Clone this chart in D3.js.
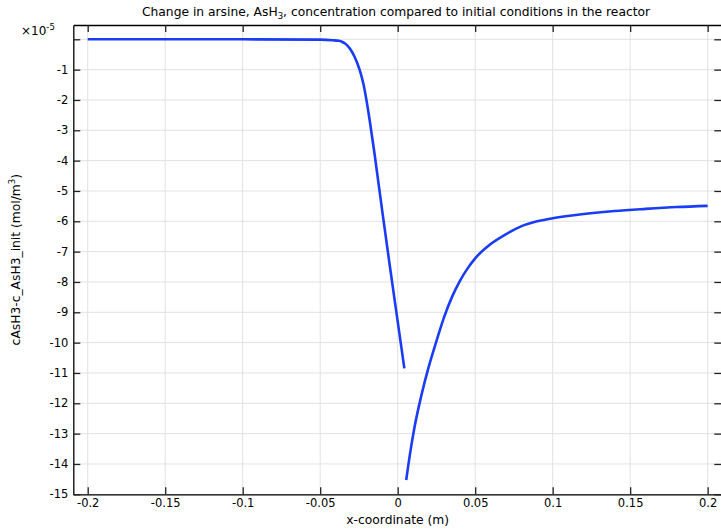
<!DOCTYPE html>
<html lang="en">
<head>
    <meta charset="UTF-8">
    <title>Arsine concentration change</title>
    <script src="https://d3js.org/d3.v7.min.js"></script>
    <style>
        body { margin: 0; background: #fff; }
        text { font-family: "DejaVu Sans", sans-serif; fill: #000; }
    </style>
</head>
<body>
<div id="chart"></div>
<script>
    // upstream of the inlet (x < 0)
    let upX = [-0.2, -0.1, -0.05, -0.042, -0.038, -0.036, -0.034, -0.032, -0.03, -0.028, -0.026, -0.024, -0.022,
        -0.02, -0.0181, -0.015, -0.01, -0.005, 0, 0.0043];
    let upY = [0, 0, -0.01, -0.03, -0.05, -0.08, -0.14, -0.23, -0.37, -0.56, -0.8, -1.1, -1.5,
        -2.05, -2.66, -3.75, -5.65, -7.5, -9.3, -10.85];
    // downstream (x > 0)
    let downX = [0.0055, 0.008, 0.011, 0.015, 0.02, 0.025, 0.03, 0.035, 0.04, 0.045, 0.05, 0.06,
        0.07, 0.08, 0.09, 0.1, 0.12, 0.14, 0.16, 0.18, 0.2];
    let downY = [-14.53, -13.65, -12.75, -11.8, -10.8, -9.95, -9.15, -8.5, -7.98, -7.56, -7.22, -6.75,
        -6.42, -6.16, -6.0, -5.9, -5.76, -5.66, -5.59, -5.53, -5.49];

    let xTicks = [-0.2, -0.15, -0.1, -0.05, 0, 0.05, 0.1, 0.15, 0.2];
    let yTicks = d3.range(0, -16, -1);

    let W = 721, H = 529;
    let margin = {top: 25, left: 73.3};
    let width = 648, height = 469.3;

    let svg = d3.select('#chart')
        .append('svg')
        .attr('width', W)
        .attr('height', H);

    let g = svg.append('g')
        .attr('transform', 'translate(' + margin.left + ',' + margin.top + ')');

    let x = d3.scaleLinear()
        .domain([-0.2093, 0.2088])
        .range([0, width]);
    let y = d3.scaleLinear()
        .domain([0.4715, -15])
        .range([0, height]);

    // grid
    g.append('g')
        .selectAll('line.gx')
        .data(xTicks)
        .enter().append('line')
        .attr('x1', d => x(d)).attr('x2', d => x(d))
        .attr('y1', 0).attr('y2', height)
        .attr('stroke', '#e2e2e2').attr('stroke-width', 1);
    g.append('g')
        .selectAll('line.gy')
        .data(yTicks)
        .enter().append('line')
        .attr('x1', 0).attr('x2', width)
        .attr('y1', d => y(d)).attr('y2', d => y(d))
        .attr('stroke', '#e2e2e2').attr('stroke-width', 1);

    // data lines
    let line = d3.line()
        .x(d => x(d[0]))
        .y(d => y(d[1]))
        .curve(d3.curveMonotoneX);

    g.append('path')
        .datum(d3.zip(upX, upY))
        .attr('d', line)
        .attr('fill', 'none')
        .attr('stroke', '#1a3cf5')
        .attr('stroke-width', 2.6);
    g.append('path')
        .datum(d3.zip(downX, downY))
        .attr('d', line)
        .attr('fill', 'none')
        .attr('stroke', '#1a3cf5')
        .attr('stroke-width', 2.6);

    // axes, ticks pointing inward
    function styleAxis(sel) {
        sel.select('.domain').attr('stroke', '#000').attr('stroke-width', 1.3);
        sel.selectAll('.tick line').attr('stroke', '#222').attr('stroke-width', 1.3);
        sel.selectAll('text').style('font-size', '11.5px').style('font-family', '"DejaVu Sans", sans-serif');
    }

    g.append('g')
        .attr('transform', 'translate(0,' + height + ')')
        .call(d3.axisBottom(x).tickValues(xTicks).tickSizeInner(-7).tickSizeOuter(0).tickPadding(5)
            .tickFormat(d => d === 0 ? '0' : String(d)))
        .call(styleAxis);
    g.append('g')
        .call(d3.axisTop(x).tickValues(xTicks).tickSizeInner(-7).tickSizeOuter(0).tickFormat(''))
        .call(styleAxis);
    g.append('g')
        .call(d3.axisLeft(y).tickValues(yTicks).tickSizeInner(-7).tickSizeOuter(0).tickPadding(5)
            .tickFormat(d => d === 0 ? '' : String(d)))
        .call(styleAxis);
    g.append('g')
        .attr('transform', 'translate(' + width + ',0)')
        .call(d3.axisRight(y).tickValues(yTicks).tickSizeInner(-7).tickSizeOuter(0).tickFormat(''))
        .call(styleAxis);

    // exponent
    let ex = svg.append('text')
        .attr('x', 21).attr('y', 35)
        .style('font-size', '12px');
    ex.append('tspan').text('×10');
    ex.append('tspan').attr('dy', -5).style('font-size', '8.5px').text('-5');

    // title
    let title = svg.append('text')
        .attr('x', 396).attr('y', 16)
        .attr('text-anchor', 'middle')
        .style('font-size', '12.3px');
    title.append('tspan').text('Change in arsine, AsH');
    title.append('tspan').attr('dy', 3).style('font-size', '8.5px').text('3');
    title.append('tspan').attr('dy', -3).text(', concentration compared to initial conditions in the reactor');

    // axis labels
    svg.append('text')
        .attr('x', margin.left + x(0)).attr('y', 524)
        .attr('text-anchor', 'middle')
        .style('font-size', '12.3px')
        .text('x-coordinate (m)');

    let yl = svg.append('text')
        .attr('transform', 'translate(20,' + (margin.top + height / 2) + ') rotate(-90)')
        .attr('text-anchor', 'middle')
        .style('font-size', '12.3px');
    yl.append('tspan').text('cAsH3-c_AsH3_init (mol/m');
    yl.append('tspan').attr('dy', -5).style('font-size', '8.5px').text('3');
    yl.append('tspan').attr('dy', 5).text(')');
</script>
</body>
</html>
